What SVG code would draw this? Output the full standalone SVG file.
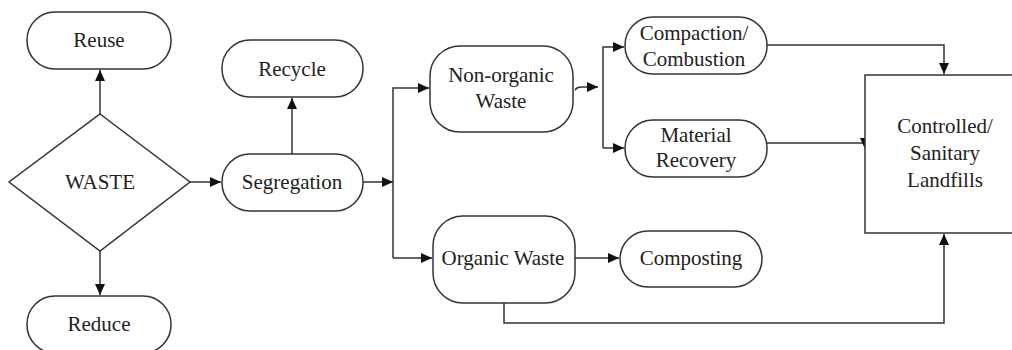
<svg xmlns="http://www.w3.org/2000/svg" width="1012" height="350" viewBox="0 0 1012 350">
<style>
.n{fill:#fff;stroke:#333;stroke-width:1.5}
.c{fill:none;stroke:#333;stroke-width:1.5}
.t{font-family:'Liberation Serif',serif;font-size:21px;fill:#222;text-anchor:middle}
</style>
<defs>
<marker id="a" markerUnits="userSpaceOnUse" markerWidth="12" markerHeight="10" refX="11" refY="5" orient="auto">
<path d="M0,0 L11,5 L0,10 Z" fill="#111"/>
</marker>
</defs>
<rect width="1012" height="350" fill="#fff"/>
<g id="connectors">
<path class="c" d="M100,114 V70" marker-end="url(#a)"/>
<path class="c" d="M100,251 V295" marker-end="url(#a)"/>
<path class="c" d="M190,182 H221" marker-end="url(#a)"/>
<path class="c" d="M292,154 V98" marker-end="url(#a)"/>
<path class="c" d="M363,182 H393" marker-end="url(#a)"/>
<path class="c" d="M393,258 V88 H429" marker-end="url(#a)"/>
<path class="c" d="M393,258 H432" marker-end="url(#a)"/>
<path class="c" d="M575,90 q2,-3 6,-3 H598" marker-end="url(#a)"/>
<path class="c" d="M603,148 V47 H624" marker-end="url(#a)"/>
<path class="c" d="M603,148 H624" marker-end="url(#a)"/>
<path class="c" d="M767,45 H944 V74" marker-end="url(#a)"/>
<path class="c" d="M767,143 H865"/>
<path d="M860,138 L870,138 L865,149 Z" fill="#111"/>
<path class="c" d="M504,303 V323 H944 V234" marker-end="url(#a)"/>
<path class="c" d="M575,258 H619" marker-end="url(#a)"/>
</g>
<g id="reuse"><rect class="n" x="27" y="12" width="144" height="57" rx="28"/><text class="t" x="99" y="47">Reuse</text></g>
<g id="waste"><polygon class="n" points="100,114 190,182 100,251 9,182"/><text class="t" x="100" y="189">WASTE</text></g>
<g id="reduce"><rect class="n" x="27" y="296" width="144" height="57" rx="28"/><text class="t" x="99" y="331">Reduce</text></g>
<g id="recycle"><rect class="n" x="222" y="40" width="141" height="57" rx="28"/><text class="t" x="292" y="76">Recycle</text></g>
<g id="segregation"><rect class="n" x="222" y="154" width="141" height="57" rx="28"/><text class="t" x="292" y="189">Segregation</text></g>
<g id="nonorganic"><rect class="n" x="430" y="46" width="143" height="86" rx="30"/><text class="t" x="501" y="82">Non-organic</text><text class="t" x="501" y="108">Waste</text></g>
<g id="organic"><rect class="n" x="433" y="216" width="142" height="87" rx="30"/><text class="t" x="503" y="265">Organic Waste</text></g>
<g id="compaction"><rect class="n" x="625" y="17" width="142" height="57" rx="28"/><text class="t" x="694" y="40">Compaction/</text><text class="t" x="694" y="66">Combustion</text></g>
<g id="material"><rect class="n" x="625" y="120" width="142" height="57" rx="28"/><text class="t" x="696" y="142">Material</text><text class="t" x="696" y="167">Recovery</text></g>
<g id="composting"><rect class="n" x="620" y="231" width="142" height="56" rx="28"/><text class="t" x="691" y="265">Composting</text></g>
<g id="landfills"><rect class="n" x="865" y="75" width="175" height="158"/><text class="t" x="945" y="133">Controlled/</text><text class="t" x="945" y="160">Sanitary</text><text class="t" x="945" y="187">Landfills</text></g>
</svg>
